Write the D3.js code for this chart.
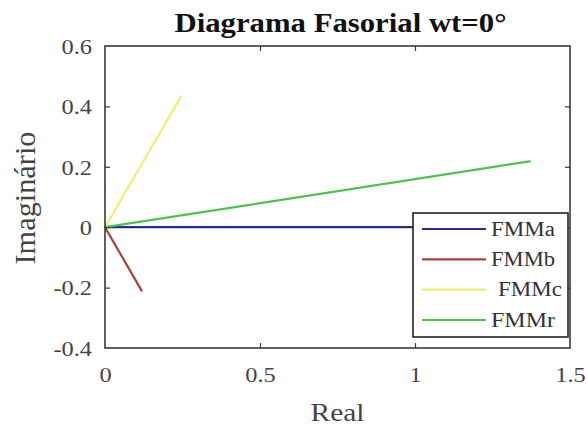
<!DOCTYPE html>
<html>
<head>
<meta charset="utf-8">
<script src="https://cdn.jsdelivr.net/npm/d3@7"></script>
<style>
  html, body { margin: 0; padding: 0; background: #fff; }
  svg { display: block; }
</style>
</head>
<body>
<svg id="chart" width="587" height="427"></svg>
<script>
// Phasor tips (real, imaginary) – every phasor starts at the origin
const seriesNames = ["FMMa", "FMMb", "FMMc", "FMMr"];
const realParts   = [1.00, 0.118, 0.245, 1.37];
const imagParts   = [0.00, -0.21, 0.433, 0.218];
const seriesColors = ["#2b2b8c", "#a8423e", "#eeee70", "#4ec24e"];

const xTicks = [0, 0.5, 1, 1.5];
const yTicks = [-0.4, -0.2, 0, 0.2, 0.4, 0.6];
const xTickLabels = ["0", "0.5", "1", "1.5"];
const yTickLabels = ["-0.4", "-0.2", "0", "0.2", "0.4", "0.6"];

const FONT = "'Liberation Serif', 'Times New Roman', Times, serif";

const svg = d3.select("#chart");
const L = 105, T = 46, R = 570, B = 348;

const x = d3.scaleLinear().domain([0, 1.5]).range([L, R]);
const y = d3.scaleLinear().domain([-0.4, 0.6]).range([B, T]);

// stretch text horizontally by a factor (glyphs are set a bit wide)
function widen(sel, f) {
  sel.each(function () {
    const w = this.getComputedTextLength();
    d3.select(this).attr("textLength", w * f).attr("lengthAdjust", "spacingAndGlyphs");
  });
}

const axisColor = "#3a3a3a";
const labelColor = "#444";

// phasors
const phasors = seriesNames.map((n, i) => ({ name: n, re: realParts[i], im: imagParts[i], color: seriesColors[i] }));
svg.append("g").selectAll("line").data(phasors).join("line")
  .attr("x1", x(0)).attr("y1", y(0))
  .attr("x2", d => x(d.re)).attr("y2", d => y(d.im))
  .attr("stroke", d => d.color).attr("stroke-width", 2.2)
  .attr("stroke-linecap", "round");

// axes with inward ticks
function styleAxis(g) {
  g.attr("font-family", null).attr("font-size", null);
  g.select(".domain").remove();
  g.selectAll(".tick line").attr("stroke", axisColor).attr("stroke-width", 1.2);
  g.selectAll(".tick text").attr("fill", labelColor)
    .style("font-family", FONT).style("font-size", "20px");
}

const gx = svg.append("g").attr("transform", `translate(0,${B})`)
  .call(d3.axisBottom(x).tickValues(xTicks).tickFormat((d, i) => xTickLabels[i]).tickSize(-5).tickPadding(27));
styleAxis(gx);
gx.selectAll(".tick text").attr("dy", "0.35em");
gx.selectAll(".tick").filter(d => d === 0 || d === 1.5).select("line").remove();
widen(gx.selectAll(".tick text"), 1.22);

const gxTop = svg.append("g").attr("transform", `translate(0,${T})`)
  .call(d3.axisTop(x).tickValues([0.5, 1]).tickSize(-5).tickFormat(""));
styleAxis(gxTop);

const gy = svg.append("g").attr("transform", `translate(${L},0)`)
  .call(d3.axisLeft(y).tickValues(yTicks).tickFormat((d, i) => yTickLabels[i]).tickSize(-5).tickPadding(13));
styleAxis(gy);
gy.selectAll(".tick text").attr("dy", "0.36em");
gy.selectAll(".tick").filter(d => d === -0.4 || d === 0.6).select("line").remove();
widen(gy.selectAll(".tick text"), 1.22);

const gyRight = svg.append("g").attr("transform", `translate(${R},0)`)
  .call(d3.axisRight(y).tickValues([-0.2, 0, 0.2, 0.4]).tickSize(-5).tickFormat(""));
styleAxis(gyRight);

// plot frame
svg.append("rect").attr("x", L).attr("y", T).attr("width", R - L).attr("height", B - T)
  .attr("fill", "none").attr("stroke", axisColor).attr("stroke-width", 1.6);

// title and axis titles
svg.append("text").attr("x", (L + R) / 2 + 3).attr("y", 32)
  .attr("text-anchor", "middle").style("font-family", FONT).style("font-size", "28px")
  .style("font-weight", "bold").attr("fill", "#111").text("Diagrama Fasorial wt=0°")
  .attr("textLength", 332).attr("lengthAdjust", "spacingAndGlyphs");

svg.append("text").attr("x", (L + R) / 2).attr("y", 421)
  .attr("text-anchor", "middle").style("font-family", FONT).style("font-size", "26px")
  .attr("fill", labelColor).text("Real")
  .attr("textLength", 54).attr("lengthAdjust", "spacingAndGlyphs");

svg.append("text").attr("transform", `translate(35,198) rotate(-90)`)
  .attr("text-anchor", "middle").style("font-family", FONT).style("font-size", "29px")
  .attr("fill", labelColor).text("Imaginário")
  .attr("textLength", 133).attr("lengthAdjust", "spacingAndGlyphs");

// legend
const lg = svg.append("g");
lg.append("rect").attr("x", 413).attr("y", 213).attr("width", 155).attr("height", 124)
  .attr("fill", "#fff").attr("stroke", "#222").attr("stroke-width", 1.6);
const rowY = d3.scalePoint().domain(seriesNames).range([229, 320]);
const rows = lg.selectAll("g.row").data(phasors).join("g").attr("class", "row")
  .attr("transform", d => `translate(0,${rowY(d.name)})`);
rows.append("line").attr("x1", 422).attr("x2", 486).attr("y1", 0).attr("y2", 0)
  .attr("stroke", d => d.color).attr("stroke-width", 2.2);
rows.append("text").attr("x", d => d.name === "FMMc" ? 498 : 491).attr("y", 0).attr("dy", "0.34em")
  .style("font-family", FONT).style("font-size", "20px").attr("fill", "#333").text(d => d.name)
  .attr("textLength", 64).attr("lengthAdjust", "spacingAndGlyphs");
</script>
</body>
</html>
